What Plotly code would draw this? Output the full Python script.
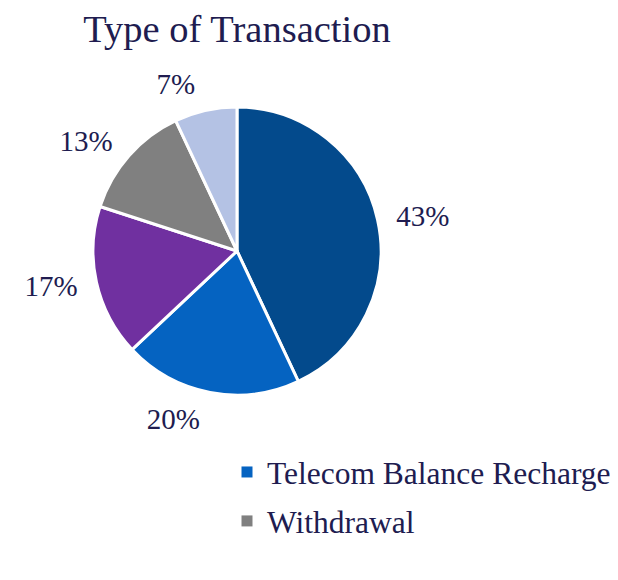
import plotly.graph_objects as go

# Data
categories = ["Money Transfer", "Telecom Balance Recharge", "Bill Payment", "Withdrawal", "Other"]
shares = [43, 20, 17, 13, 7]
colors = ["#034a8c", "#0563c1", "#7030a0", "#808080", "#b4c2e4"]
legend_items = ["Telecom Balance Recharge", "Withdrawal"]

TEXT = "#201c50"
FONT = "Liberation Serif"
W, H = 618, 580
CX, CY, R = 229, 243, 144   # pie centre / radius in px (page offset accounted)
RL = 155                    # radius of invisible label ring


def dom(cx, cy, r):
    return dict(x=[(cx - r) / W, (cx + r) / W], y=[1 - (cy + r) / H, 1 - (cy - r) / H])


fig = go.Figure()
# coloured pie
fig.add_trace(go.Pie(
    labels=categories, values=shares, sort=False, direction="clockwise", rotation=0,
    marker=dict(colors=colors, line=dict(color="white", width=3)),
    textinfo="none", showlegend=False, hoverinfo="skip",
    domain=dom(CX, CY, R),
))
# invisible slightly larger pie carrying the outside percentage labels
fig.add_trace(go.Pie(
    labels=categories, values=shares, sort=False, direction="clockwise", rotation=0,
    marker=dict(colors=["rgba(0,0,0,0)"] * len(shares), line=dict(width=0)),
    textposition="outside", texttemplate="%{value}%",
    textfont=dict(family=FONT, size=29, color=TEXT),
    showlegend=False, hoverinfo="skip",
    domain=dom(CX, CY, RL),
))

for name in legend_items:
    idx = categories.index(name)
    fig.add_trace(go.Scatter(
        x=[None], y=[None], mode="markers", name=name, legendgroup=name,
        marker=dict(symbol="square", size=11, color=colors[idx]),
        hoverinfo="skip",
    ))

fig.update_layout(
    width=W, height=H,
    margin=dict(l=0, r=0, t=0, b=0),
    paper_bgcolor="white", plot_bgcolor="white",
    title=dict(text="Type of Transaction", x=CX / W, xanchor="center",
               y=1 - 21 / H, yanchor="middle", yref="container",
               font=dict(family=FONT, size=38.5, color=TEXT)),
    xaxis=dict(visible=False), yaxis=dict(visible=False),
    legend=dict(x=219 / W, xanchor="left", y=1 - 437 / H, yanchor="top",
                font=dict(family=FONT, size=31.5, color=TEXT),
                tracegroupgap=5, bgcolor="rgba(0,0,0,0)"),
)

fig.write_html("out.html")
